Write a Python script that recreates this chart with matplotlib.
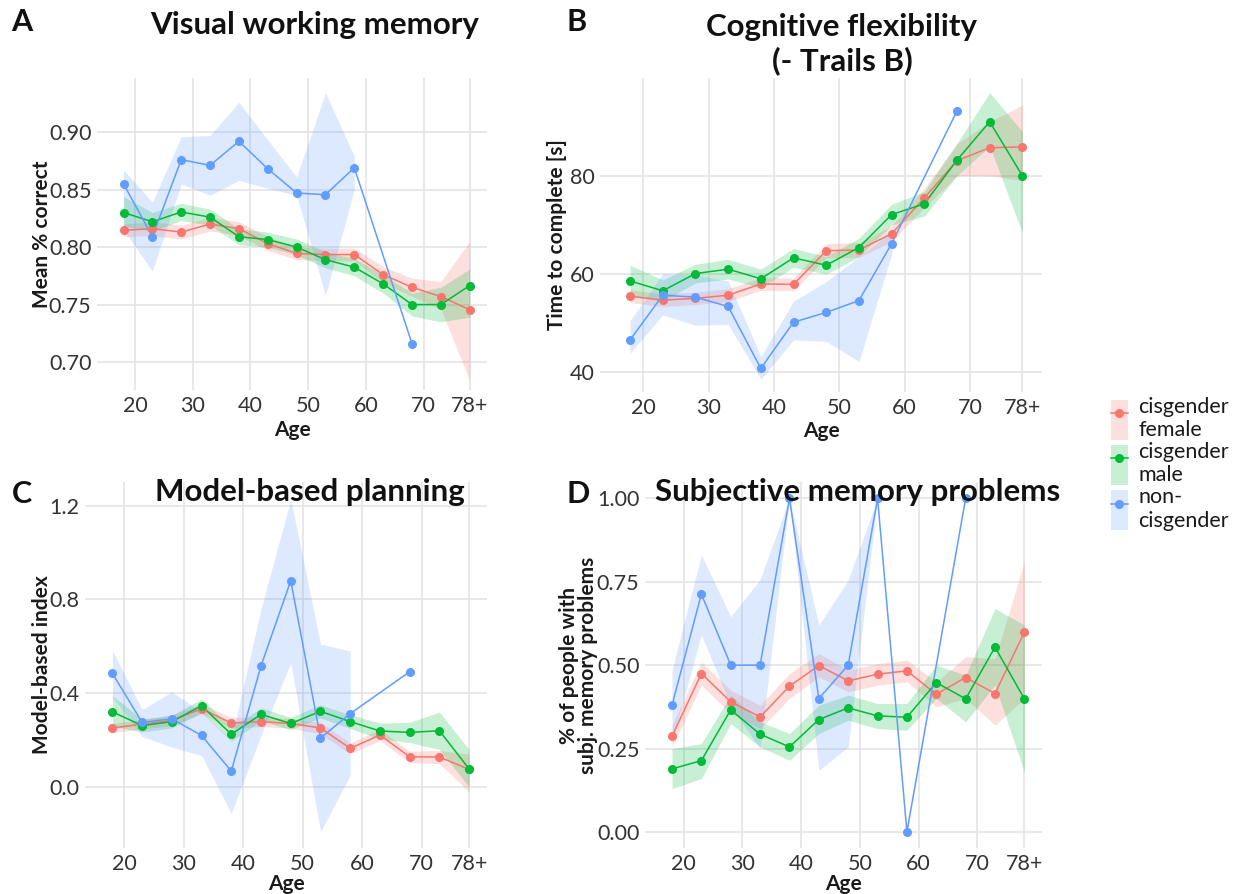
import numpy as np
import matplotlib
matplotlib.use('Agg')
import matplotlib.pyplot as plt
from matplotlib.lines import Line2D
from matplotlib.patches import Patch

plt.rcParams['font.family'] = ['Lato', 'DejaVu Sans']

nan = np.nan
AGES = [18, 23, 28, 33, 38, 43, 48, 53, 58, 63, 68, 73, 78]
AGE_TICKS = [20, 30, 40, 50, 60, 70, 78]
AGE_LABELS = ['20', '30', '40', '50', '60', '70', '78+']

GROUPS = ['cisgender\nfemale', 'cisgender\nmale', 'non-\ncisgender']
COLORS = ['#F8766D', '#00BA38', '#619CFF']

# A: visual working memory (mean, lower, upper)
vwm_female = [0.8145, 0.816, 0.813, 0.820, 0.816, 0.803, 0.7945, 0.7935, 0.7935, 0.776, 0.765, 0.757, 0.7455]
vwm_female_lo = [0.809, 0.810, 0.807, 0.814, 0.810, 0.797, 0.789, 0.788, 0.788, 0.769, 0.757, 0.746, 0.684]
vwm_female_hi = [0.820, 0.822, 0.819, 0.826, 0.822, 0.809, 0.800, 0.799, 0.799, 0.783, 0.773, 0.770, 0.805]
vwm_male = [0.830, 0.822, 0.8305, 0.826, 0.809, 0.8065, 0.800, 0.789, 0.7825, 0.768, 0.750, 0.750, 0.7665]
vwm_male_lo = [0.818, 0.814, 0.823, 0.819, 0.802, 0.800, 0.793, 0.782, 0.775, 0.760, 0.740, 0.735, 0.739]
vwm_male_hi = [0.844, 0.830, 0.838, 0.833, 0.816, 0.813, 0.807, 0.796, 0.790, 0.776, 0.760, 0.765, 0.781]
vwm_noncis = [0.855, 0.809, 0.876, 0.871, 0.892, 0.868, 0.847, 0.8455, 0.869, nan, 0.716, nan, nan]
vwm_noncis_lo = [0.815, 0.779, 0.855, 0.845, 0.858, 0.851, 0.845, 0.758, 0.850, nan, nan, nan, nan]
vwm_noncis_hi = [0.867, 0.839, 0.896, 0.897, 0.926, 0.893, 0.861, 0.934, 0.879, nan, nan, nan, nan]

# B: Trails B completion time
trl_female = [55.5, 54.7, 55.05, 55.7, 58.0, 57.9, 64.75, 64.9, 68.2, 75.5, 83.1, 85.7, 85.9]
trl_female_lo = [54.2, 53.4, 53.8, 54.4, 56.7, 56.6, 63.3, 63.4, 66.6, 73.5, 80.0, 80.0, 79.0]
trl_female_hi = [56.8, 56.0, 56.3, 57.0, 59.3, 59.2, 66.2, 66.4, 69.8, 77.5, 86.5, 91.0, 94.4]
trl_male = [58.6, 56.6, 60.1, 61.0, 59.05, 63.3, 61.8, 65.4, 72.1, 74.3, 83.2, 91.0, 80.0]
trl_male_lo = [55.5, 54.5, 58.2, 59.0, 57.2, 61.4, 60.0, 63.5, 70.0, 71.8, 80.0, 86.0, 68.4]
trl_male_hi = [61.8, 58.8, 62.0, 63.0, 61.0, 65.2, 63.6, 67.3, 74.2, 76.8, 86.6, 96.9, 89.0]
trl_noncis = [46.6, 55.7, 55.3, 53.4, 40.8, 50.2, 52.2, 54.6, 66.2, nan, 93.2, nan, nan]
trl_noncis_lo = [43.9, 51.7, 49.6, 49.8, 38.6, 46.6, 46.3, 42.2, 64.0, nan, nan, nan, nan]
trl_noncis_hi = [50.5, 60.1, 59.8, 58.6, 43.2, 54.5, 58.5, 63.5, 68.6, nan, nan, nan, nan]

# C: model-based planning index
mb_female = [0.252, 0.268, 0.285, 0.334, 0.273, 0.279, 0.271, 0.252, 0.165, 0.222, 0.129, 0.128, 0.075]
mb_female_lo = [0.232, 0.248, 0.262, 0.312, 0.250, 0.258, 0.250, 0.228, 0.142, 0.198, 0.105, 0.100, -0.02]
mb_female_hi = [0.272, 0.288, 0.308, 0.356, 0.296, 0.300, 0.292, 0.276, 0.188, 0.246, 0.153, 0.156, 0.14]
mb_male = [0.321, 0.262, 0.279, 0.347, 0.225, 0.310, 0.271, 0.323, 0.279, 0.239, 0.233, 0.240, 0.077]
mb_male_lo = [0.26, 0.235, 0.252, 0.318, 0.195, 0.282, 0.245, 0.295, 0.250, 0.205, 0.190, 0.16, 0.0]
mb_male_hi = [0.39, 0.29, 0.306, 0.376, 0.255, 0.338, 0.297, 0.351, 0.308, 0.273, 0.276, 0.32, 0.16]
mb_noncis = [0.485, 0.276, 0.291, 0.220, 0.068, 0.517, 0.880, 0.209, 0.313, nan, 0.492, nan, nan]
mb_noncis_lo = [0.385, 0.216, 0.17, 0.134, -0.111, 0.22, 0.53, -0.19, 0.05, nan, nan, nan, nan]
mb_noncis_hi = [0.583, 0.33, 0.406, 0.32, 0.20, 0.76, 1.226, 0.61, 0.58, nan, nan, nan, nan]

# D: share with subjective memory problems
smp_female = [0.287, 0.475, 0.39, 0.345, 0.437, 0.499, 0.453, 0.473, 0.483, 0.413, 0.463, 0.415, 0.599]
smp_female_lo = [0.255, 0.44, 0.355, 0.31, 0.40, 0.465, 0.42, 0.44, 0.45, 0.375, 0.40, 0.32, 0.40]
smp_female_hi = [0.32, 0.51, 0.425, 0.38, 0.475, 0.535, 0.485, 0.505, 0.515, 0.45, 0.525, 0.52, 0.81]
smp_male = [0.189, 0.214, 0.366, 0.293, 0.255, 0.337, 0.372, 0.348, 0.344, 0.448, 0.399, 0.554, 0.399]
smp_male_lo = [0.13, 0.16, 0.325, 0.255, 0.215, 0.295, 0.335, 0.31, 0.305, 0.40, 0.33, 0.44, 0.18]
smp_male_hi = [0.25, 0.265, 0.41, 0.33, 0.295, 0.38, 0.41, 0.385, 0.385, 0.50, 0.47, 0.67, 0.62]
smp_noncis = [0.38, 0.713, 0.50, 0.50, 1.0, 0.40, 0.50, 1.0, 0.0, nan, 1.0, nan, nan]
smp_noncis_lo = [0.27, 0.592, 0.377, 0.25, 1.0, 0.185, 0.255, 1.0, 0.0, nan, nan, nan, nan]
smp_noncis_hi = [0.485, 0.83, 0.645, 0.757, 1.0, 0.62, 0.755, 1.0, 0.0, nan, nan, nan, nan]

TEXT = '#1a1a1a'
TICK = '#333333'
GRID = '#E2E2E2'


def draw_panel(ax, series, yticks, ylabels, ylim, ylabel, ylabel_x, age_y):
    x = np.array(AGES, dtype=float)
    # ribbons first, then lines, then points (ggplot layer order)
    for (mean, lo, hi), color in zip(series, COLORS):
        lo, hi = np.array(lo, float), np.array(hi, float)
        ok = ~np.isnan(lo)
        ax.fill_between(x[ok], lo[ok], hi[ok], color=color, alpha=0.22, lw=0, zorder=2)
    for (mean, lo, hi), color in zip(series, COLORS):
        m = np.array(mean, float)
        ok = ~np.isnan(m)
        ax.plot(x[ok], m[ok], color=color, lw=1.1, zorder=3)
    for (mean, lo, hi), color in zip(series, COLORS):
        m = np.array(mean, float)
        ok = ~np.isnan(m)
        ax.plot(x[ok], m[ok], 'o', color=color, ms=6.5, mec='none', zorder=4)

    ax.set_xlim(13.4, 81)
    ax.set_ylim(*ylim)
    ax.set_xticks(AGE_TICKS, AGE_LABELS)
    ax.set_yticks(yticks, ylabels)
    ax.grid(True, color=GRID, lw=1.1)
    ax.set_axisbelow(True)
    for s in ax.spines.values():
        s.set_visible(False)
    ax.tick_params(length=0, labelsize=15.5, labelcolor=TICK, pad=4)
    ax.set_ylabel(ylabel, fontsize=15, fontweight='bold', color=TEXT, linespacing=0.95)
    ax.yaxis.set_label_coords(ylabel_x, 0.5)
    ax.set_xlabel('Age', fontsize=15, fontweight='bold', color=TEXT)
    ax.xaxis.set_label_coords(0.5, age_y)


fig = plt.figure(figsize=(12.42, 8.94), dpi=100)
W, H = 1242, 894


def add_axes(left, top, right, bottom):
    return fig.add_axes([left / W, 1 - bottom / H, (right - left) / W, (bottom - top) / H])


ax_a = add_axes(97, 78, 487, 390)
ax_b = add_axes(600, 78, 1042, 392)
ax_c = add_axes(85, 482, 487, 848)
ax_d = add_axes(645, 482, 1042, 848)

draw_panel(ax_a,
           [(vwm_female, vwm_female_lo, vwm_female_hi),
            (vwm_male, vwm_male_lo, vwm_male_hi),
            (vwm_noncis, vwm_noncis_lo, vwm_noncis_hi)],
           [0.70, 0.75, 0.80, 0.85, 0.90], ['0.70', '0.75', '0.80', '0.85', '0.90'],
           (0.6757, 0.947), 'Mean % correct', -0.115, -0.095)
draw_panel(ax_b,
           [(trl_female, trl_female_lo, trl_female_hi),
            (trl_male, trl_male_lo, trl_male_hi),
            (trl_noncis, trl_noncis_lo, trl_noncis_hi)],
           [40, 60, 80], ['40', '60', '80'],
           (36.0, 99.9), 'Time to complete [s]', -0.075, -0.093)
draw_panel(ax_c,
           [(mb_female, mb_female_lo, mb_female_hi),
            (mb_male, mb_male_lo, mb_male_hi),
            (mb_noncis, mb_noncis_lo, mb_noncis_hi)],
           [0.0, 0.4, 0.8, 1.2], ['0.0', '0.4', '0.8', '1.2'],
           (-0.26, 1.301), 'Model-based index', -0.082, -0.072)
draw_panel(ax_d,
           [(smp_female, smp_female_lo, smp_female_hi),
            (smp_male, smp_male_lo, smp_male_hi),
            (smp_noncis, smp_noncis_lo, smp_noncis_hi)],
           [0.0, 0.25, 0.5, 0.75, 1.0], ['0.00', '0.25', '0.50', '0.75', '1.00'],
           (-0.048, 1.049), '% of people with\nsubj. memory problems', -0.118, -0.072)

# panel titles and letters
title_kw = dict(fontsize=22.5, fontweight='bold', color='#111111', ha='center', va='center')
fig.text(315 / W, 1 - 25 / H, 'Visual working memory', **title_kw)
fig.text(842 / W, 1 - 27 / H, 'Cognitive flexibility', **title_kw)
fig.text(842 / W, 1 - 61 / H, '(- Trails B)', **title_kw)
fig.text(310 / W, 1 - 492 / H, 'Model-based planning', **title_kw)
fig.text(858 / W, 1 - 492 / H, 'Subjective memory problems', **title_kw)

letter_kw = dict(fontsize=22, fontweight='bold', color='#111111', ha='center', va='center')
for lbl, (px, py) in zip('ABCD', [(22, 22), (577, 22), (22, 494), (578, 494)]):
    fig.text(px / W, 1 - py / H, lbl, **letter_kw)

handles = [(Patch(facecolor=c, alpha=0.22, lw=0),
            Line2D([], [], color=c, lw=1.1, marker='o', ms=6.5, mec='none'))
           for c in COLORS]
fig.legend(handles, GROUPS, loc='upper left', bbox_to_anchor=(1102 / W, 1 - 388 / H),
           frameon=False, fontsize=15.5, handlelength=0.8, handleheight=2.5,
           labelspacing=0.1, handletextpad=0.5, borderaxespad=0, labelcolor=TEXT)

fig.savefig('out.png', dpi=100, facecolor='white')
